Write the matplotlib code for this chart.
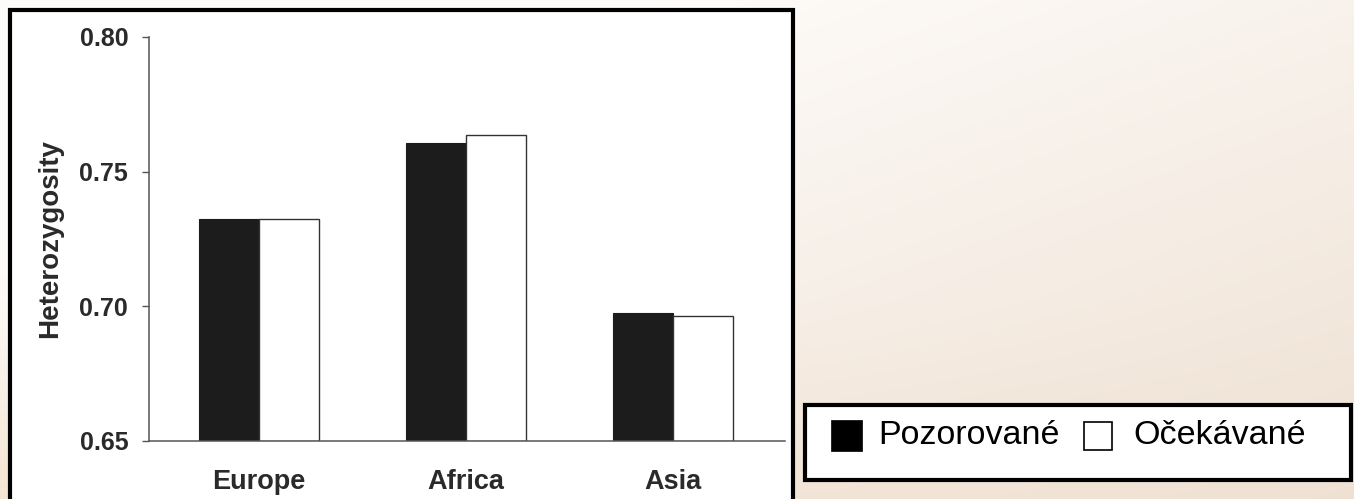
import numpy as np
import matplotlib
matplotlib.use("Agg")
import matplotlib.pyplot as plt
from matplotlib.patches import Rectangle

# ---- data ----
categories = ["Europe", "Africa", "Asia"]
observed = [0.7324, 0.7607, 0.6975]
expected = [0.7324, 0.7636, 0.6964]
yticks = [0.65, 0.70, 0.75, 0.80]
ytick_labels = ["0.65", "0.70", "0.75", "0.80"]
ylabel = "Heterozygosity"
legend_labels = ["Pozorované", "Očekávané"]

W, H = 1354, 499
fig = plt.figure(figsize=(W / 100, H / 100), dpi=100)

# ---- background (beige paper-like gradient) ----
bg = fig.add_axes([0, 0, 1, 1], zorder=0)
yy, xx = np.mgrid[0:H, 0:W]
xf = xx / W
yf = yy / H
c_light = np.array([254, 252, 250]) / 255
c_tan = np.array([236, 220, 204]) / 255
c_orange = np.array([238, 206, 172]) / 255
t = np.clip(0.55 * xf + 0.55 * yf - 0.25, 0, 1)[..., None]
img = c_light * (1 - t) + c_tan * t
o = np.clip((yf - 0.6) * 1.6 * (1 - xf) , 0, 1)[..., None] * 0.6
img = img * (1 - o) + c_orange * o
bg.imshow(img, aspect="auto", extent=[0, 1, 0, 1], origin="upper")
bg.set_xlim(0, 1); bg.set_ylim(0, 1)
bg.axis("off")

def fx(px):
    return px / W

def fy(py):
    return 1 - py / H

# white chart panel with black border
panel = Rectangle((fx(10), fy(505)), fx(793) - fx(10), fy(10) - fy(505),
                  transform=fig.transFigure, facecolor="white", edgecolor="black",
                  linewidth=3.0, zorder=1)
fig.patches.append(panel)

# legend box
lbox = Rectangle((fx(805), fy(480)), fx(1351) - fx(805), fy(405) - fy(480),
                 transform=fig.transFigure, facecolor="white", edgecolor="black",
                 linewidth=3.0, zorder=1)
fig.patches.append(lbox)

# ---- chart ----
left, right, bottom, top = 149, 785, 441, 37
ax = fig.add_axes([fx(left), fy(bottom), fx(right) - fx(left), fy(top) - fy(bottom)], zorder=2)
ax.set_facecolor("none")

x = np.arange(len(categories))
bw = 0.29
ax.bar(x - bw / 2, [v - 0.65 for v in observed], bottom=0.65, width=bw,
       color="#1c1c1c", edgecolor="#1c1c1c", linewidth=0.8)
ax.bar(x + bw / 2, [v - 0.65 for v in expected], bottom=0.65, width=bw,
       color="white", edgecolor="#333333", linewidth=1.0)

ax.set_xlim(-0.53, 2.54)
ax.set_ylim(0.65, 0.80)
ax.set_yticks(yticks)
ax.set_yticklabels(ytick_labels)
ax.set_xticks(x)
ax.set_xticklabels(categories)

for s in ["top", "right"]:
    ax.spines[s].set_visible(False)
for s in ["left", "bottom"]:
    ax.spines[s].set_color("#555555")
    ax.spines[s].set_linewidth(1.1)

ax.tick_params(axis="y", direction="out", length=5, width=1, color="#555555",
               pad=10, labelsize=18, labelcolor="#2a2a2a")
ax.tick_params(axis="x", length=0, pad=20, labelsize=19.5, labelcolor="#2a2a2a")
for lab in ax.get_yticklabels() + ax.get_xticklabels():
    lab.set_fontfamily("Liberation Sans")
    lab.set_fontweight("bold")

ax.set_ylabel(ylabel, fontsize=20, fontweight="bold", family="Liberation Sans",
              color="#2a2a2a", labelpad=12)

# ---- legend ----
sq = 31
fig.patches.append(Rectangle((fx(831), fy(451)), fx(sq), sq / H, transform=fig.transFigure,
                             facecolor="black", edgecolor="black", linewidth=0.5, zorder=3))
fig.text(fx(878), fy(436), legend_labels[0], fontsize=24.5, family="Liberation Sans",
         va="center", ha="left", color="black", zorder=3)
fig.patches.append(Rectangle((fx(1084), fy(450)), fx(28), 28 / H, transform=fig.transFigure,
                             facecolor="white", edgecolor="black", linewidth=1.2, zorder=3))
fig.text(fx(1133), fy(436), legend_labels[1], fontsize=24.5, family="Liberation Sans",
         va="center", ha="left", color="black", zorder=3)

fig.savefig("out.png", dpi=100)
